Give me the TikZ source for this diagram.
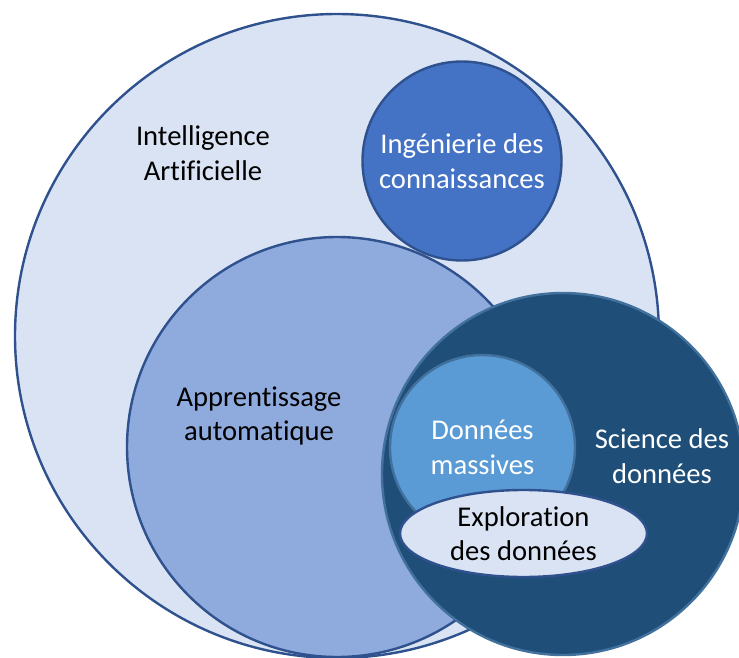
\documentclass[tikz,border=0pt]{standalone}
\usepackage{fontspec}
\setmainfont{Carlito}[Ligatures={NoCommon}]
\usetikzlibrary{shapes.geometric}
\definecolor{edgeA}{HTML}{2F528F}
\definecolor{edgeB}{HTML}{41719C}
\definecolor{fillIA}{HTML}{DAE3F3}
\definecolor{fillIC}{HTML}{4472C4}
\definecolor{fillML}{HTML}{8FAADC}
\definecolor{fillDS}{HTML}{1F4E79}
\definecolor{fillBD}{HTML}{5B9BD5}
\definecolor{fillEX}{HTML}{DAE3F3}
\begin{document}
\begin{tikzpicture}[x=1pt,y=-1pt,
  blob/.style={draw, line width=2.4pt, inner sep=0pt, outer sep=0pt},
  lbl/.style={font=\fontsize{28.6}{34.5}\selectfont, align=center, inner sep=0pt},
  dark/.style={lbl, text=black},
  light/.style={lbl, text=white}]
\useasboundingbox (0,0) rectangle (739,658);
\node[blob, circle, edgeA, fill=fillIA, minimum size=644pt] (ia) at (337,336) {};
\node[blob, circle, edgeA, fill=fillIC, minimum size=199pt, light] (ic) at (462,161) {Ingénierie des\\connaissances};
\node[blob, circle, edgeA, fill=fillML, minimum size=420pt] (ml) at (337,447) {};
\node[blob, circle, edgeB, fill=fillDS, minimum size=362pt] (ds) at (563,474) {};
\node[blob, circle, edgeB, fill=fillBD, minimum size=185pt, light] (bd) at (482.5,447.5) {Données\\massives};
\node[blob, ellipse, edgeA, fill=fillEX, minimum width=247pt, minimum height=87pt, dark] (ex) at (523.5,533.5) {Exploration\\des données};
\node[dark] (iat) at (203,153) {Intelligence\\Artificielle};
\node[dark] (mlt) at (259,416) {Apprentissage\\automatique};
\node[light] (dst) at (662,456) {Science des\\données};
\end{tikzpicture}
\end{document}
